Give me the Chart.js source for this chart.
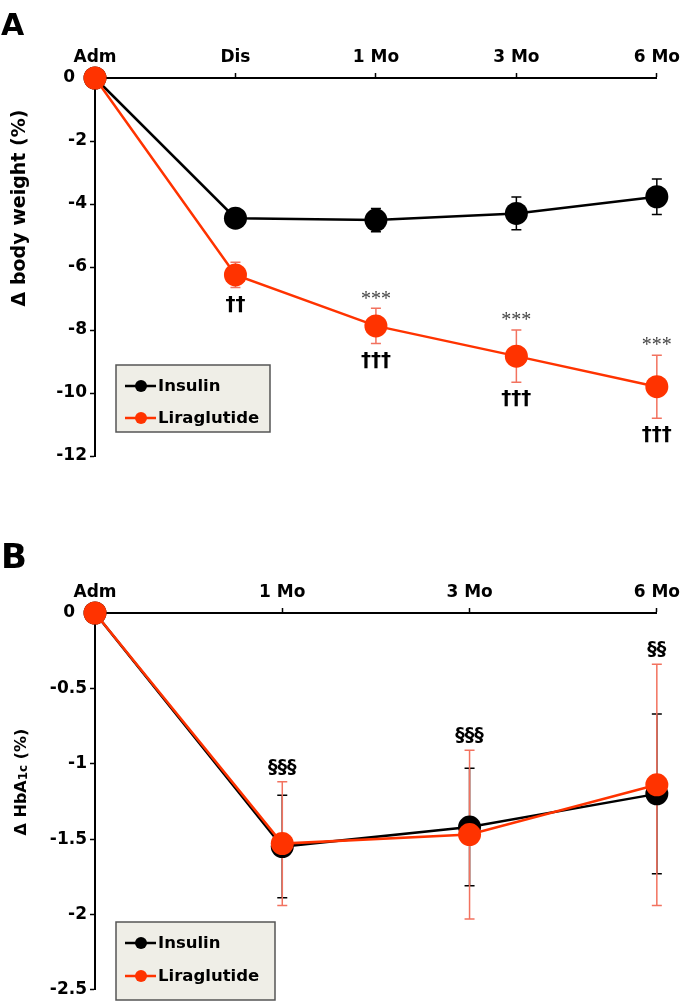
<!DOCTYPE html>
<html>
<head>
<meta charset="utf-8">
<script src="https://cdn.jsdelivr.net/npm/chart.js@4.4.0/dist/chart.umd.min.js"></script>
<style>
    html, body { margin: 0; padding: 0; background: #fff; }
    .panel { position: absolute; left: 0; width: 685px; }
    #wrapA { top: 0; height: 480px; }
    #wrapB { top: 480px; height: 523px; }
</style>
</head>
<body>
<div class="panel" id="wrapA"><canvas id="chartA"></canvas></div>
<div class="panel" id="wrapB"><canvas id="chartB"></canvas></div>
<script>
// --- DATA: panel A (body weight) ---
const labelsA = ['Adm', 'Dis', '1 Mo', '3 Mo', '6 Mo'];
const insulinA = [0, -4.45, -4.51, -4.3, -3.77];
const insulinErrA = [0, 0.25, 0.37, 0.52, 0.56];
const liraA = [0, -6.25, -7.87, -8.83, -9.8];
const liraErrA = [0, 0.4, 0.56, 0.83, 1.0];
const starsA = ['', '', '***', '***', '***'];
const daggersA = ['', '††', '†††', '†††', '†††'];

// --- DATA: panel B (HbA1c) ---
const labelsB = ['Adm', '1 Mo', '3 Mo', '6 Mo'];
const insulinB = [0, -1.55, -1.42, -1.2];
const insulinErrB = [0, 0.34, 0.39, 0.53];
const liraB = [0, -1.53, -1.47, -1.14];
const liraErrB = [0, 0.41, 0.56, 0.8];
const sectionsB = ['', '§§§', '§§§', '§§'];

const BLACK = '#000000';
const RED = '#ff3300';
const RED_ERR = '#f2725f';

Chart.defaults.font.family = 'DejaVu Sans';
Chart.defaults.font.weight = 'bold';
Chart.defaults.color = '#000';

// error bars under the points
const errorBars = {
    id: 'errorBars',
    beforeDatasetsDraw(chart) {
        const ctx = chart.ctx;
        const y = chart.scales.y;
        chart.data.datasets.forEach((ds, i) => {
            const meta = chart.getDatasetMeta(i);
            ctx.save();
            ctx.strokeStyle = ds.errColor;
            ctx.lineWidth = 1.5;
            ds.data.forEach((v, j) => {
                const e = ds.errors[j];
                if (!e) return;
                const px = meta.data[j].x;
                const t = y.getPixelForValue(v + e);
                const b = y.getPixelForValue(v - e);
                ctx.beginPath();
                ctx.moveTo(px, t); ctx.lineTo(px, b);
                ctx.moveTo(px - 5, t); ctx.lineTo(px + 5, t);
                ctx.moveTo(px - 5, b); ctx.lineTo(px + 5, b);
                ctx.stroke();
            });
            ctx.restore();
        });
    }
};

// significance marks above / below the liraglutide error bars
function makeMarks(o) {
    return {
        id: 'marks',
        afterDatasetsDraw(chart) {
            const ctx = chart.ctx;
            const y = chart.scales.y;
            const ds = chart.data.datasets[1];
            const meta = chart.getDatasetMeta(1);
            ctx.save();
            ctx.textAlign = 'center';
            ctx.textBaseline = 'middle';
            ds.data.forEach((v, j) => {
                const px = meta.data[j].x;
                const t = y.getPixelForValue(v + ds.errors[j]);
                const b = y.getPixelForValue(v - ds.errors[j]);
                if (o.above && o.above[j]) {
                    ctx.font = o.aboveFont;
                    ctx.fillStyle = o.aboveColor;
                    ctx.fillText(o.above[j], px, t - o.aboveGap);
                }
                if (o.below && o.below[j]) {
                    ctx.font = o.belowFont;
                    ctx.fillStyle = '#000';
                    ctx.fillText(o.below[j], px, b + o.belowGap);
                }
            });
            ctx.restore();
        }
    };
}

// panel letter, y title and boxed legend
function makeFrame(o) {
    return {
        id: 'frame',
        afterDraw(chart) {
            const ctx = chart.ctx;
            ctx.save();
            ctx.fillStyle = '#000';
            ctx.font = o.letterFont;
            ctx.textAlign = 'left';
            ctx.textBaseline = 'alphabetic';
            ctx.fillText(o.letter, 1, o.letterY);

            // rotated y title, pieces may have different sizes
            ctx.translate(o.titleX, o.titleY);
            ctx.rotate(-Math.PI / 2);
            let total = 0;
            o.title.forEach(p => { ctx.font = 'bold ' + p.s + 'px DejaVu Sans'; total += ctx.measureText(p.t).width; });
            let cx = -total / 2;
            o.title.forEach(p => {
                ctx.font = 'bold ' + p.s + 'px DejaVu Sans';
                ctx.fillText(p.t, cx, p.dy || 0);
                cx += ctx.measureText(p.t).width;
            });
            ctx.restore();

            // legend
            const L = o.legend;
            ctx.save();
            ctx.fillStyle = '#efeee7';
            ctx.fillRect(L.x, L.y, L.w, L.h);
            ctx.strokeStyle = '#555';
            ctx.lineWidth = 1.5;
            ctx.strokeRect(L.x, L.y, L.w, L.h);
            chart.data.datasets.forEach((ds, i) => {
                const ry = L.rows[i];
                ctx.strokeStyle = ds.borderColor;
                ctx.lineWidth = 2.5;
                ctx.beginPath();
                ctx.moveTo(L.x + 9, ry); ctx.lineTo(L.x + 40, ry);
                ctx.stroke();
                ctx.fillStyle = ds.borderColor;
                ctx.beginPath();
                ctx.arc(L.x + 25, ry, 6, 0, Math.PI * 2);
                ctx.fill();
                ctx.fillStyle = '#000';
                ctx.font = 'bold 16.5px DejaVu Sans';
                ctx.textAlign = 'left';
                ctx.textBaseline = 'middle';
                ctx.fillText(ds.label, L.x + 42, ry + 1);
            });
            ctx.restore();
        }
    };
}

function tickText(v) {
    const r = Math.round(v * 10) / 10;
    return r === 0 ? '0\u2007' : String(r);
}

function buildChart(id, o) {
    return new Chart(document.getElementById(id), {
        type: 'line',
        data: {
            labels: o.labels,
            datasets: [
                { label: 'Insulin', data: o.insulin, errors: o.insulinErr, errColor: BLACK,
                  borderColor: BLACK, backgroundColor: BLACK, pointBackgroundColor: BLACK, order: 2, clip: false },
                { label: 'Liraglutide', data: o.lira, errors: o.liraErr, errColor: RED_ERR,
                  borderColor: RED, backgroundColor: RED, pointBackgroundColor: RED, order: 1, clip: false }
            ]
        },
        options: {
            responsive: true,
            maintainAspectRatio: false,
            animation: false,
            devicePixelRatio: 1,
            layout: { padding: o.padding },
            elements: {
                line: { borderWidth: 2.5, tension: 0 },
                point: { radius: 11.5, hoverRadius: 11.5, borderWidth: 0 }
            },
            plugins: { legend: { display: false }, tooltip: { enabled: false } },
            scales: {
                x: {
                    position: 'top',
                    offset: false,
                    grid: { drawOnChartArea: false, tickLength: 5, tickWidth: 1.5, tickColor: '#000' },
                    border: { color: '#000', width: 2 },
                    ticks: { color: '#000', font: { size: 17, weight: 'bold' }, padding: 5, maxRotation: 0, autoSkip: false },
                    afterFit: s => { s.height = o.xAxisH; }
                },
                y: {
                    min: o.yMin,
                    max: 0,
                    grid: { drawOnChartArea: false, tickLength: 5, tickWidth: 1.5, tickColor: '#000' },
                    border: { color: '#000', width: 2 },
                    ticks: { stepSize: o.yStep, color: '#000', font: { size: 17, weight: 'bold' }, padding: 3, callback: tickText },
                    afterFit: s => { s.width = 95; }
                }
            }
        },
        plugins: [errorBars, makeMarks(o), makeFrame(o)]
    });
}

buildChart('chartA', {
    labels: labelsA, insulin: insulinA, insulinErr: insulinErrA, lira: liraA, liraErr: liraErrA,
    yMin: -12, yStep: 2, xAxisH: 78,
    padding: { left: 0, top: 0, right: 23, bottom: 24 },
    above: starsA, aboveFont: '20px Liberation Serif', aboveColor: '#444', aboveGap: 9,
    below: daggersA, belowFont: 'bold 20px DejaVu Sans', belowGap: 17,
    letter: 'A', letterFont: 'bold 30px DejaVu Sans', letterY: 35,
    title: [{ t: 'Δ body weight (%)', s: 19 }], titleX: 25, titleY: 208,
    legend: { x: 116, y: 365, w: 154, h: 67, rows: [386, 418] }
});

buildChart('chartB', {
    labels: labelsB, insulin: insulinB, insulinErr: insulinErrB, lira: liraB, liraErr: liraErrB,
    yMin: -2.5, yStep: 0.5, xAxisH: 133,
    padding: { left: 0, top: 0, right: 24, bottom: 11 },
    above: sectionsB, aboveFont: 'bold 19px DejaVu Sans', aboveColor: '#000', aboveGap: 14,
    letter: 'B', letterFont: 'bold 34px DejaVu Sans', letterY: 88,
    title: [{ t: 'Δ HbA', s: 16 }, { t: '1c', s: 12, dy: 1 }, { t: ' (%)', s: 16 }], titleX: 26, titleY: 302,
    legend: { x: 116, y: 442, w: 159, h: 78, rows: [463, 496] }
});
</script>
</body>
</html>
